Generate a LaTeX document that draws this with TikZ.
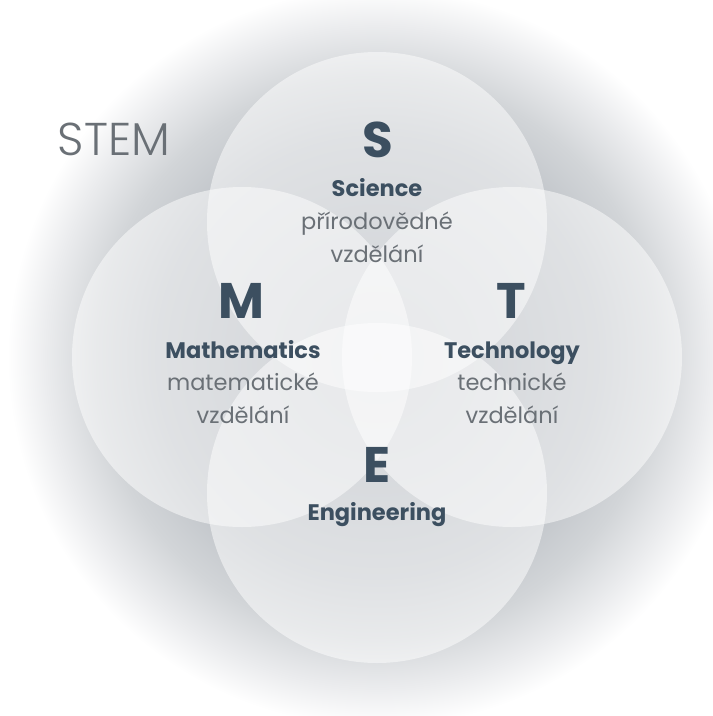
\documentclass[tikz,border=0pt]{standalone}
\usepackage{fontspec}
\setmainfont{Poppins}
\newfontfamily\poplight{Poppins Light}
\definecolor{gA}{HTML}{A0A6AE}
\definecolor{gB}{HTML}{AEB3BA}
\definecolor{gC}{HTML}{C0C4C9}
\definecolor{gD}{HTML}{D2D5D8}
\definecolor{gE}{HTML}{EBECEE}
\definecolor{darktxt}{HTML}{3C4F60}
\definecolor{softtxt}{HTML}{6A7076}
% 1bp of the shading = 24pt on the page (circle of radius 600pt)
\pgfdeclareradialshading{glow}{\pgfpoint{0bp}{0bp}}{color(0bp)=(gA); color(4.2bp)=(gB); color(9.2bp)=(gC); color(11.7bp)=(gD); color(13.8bp)=(gE); color(15.4bp)=(white); color(25bp)=(white); color(50bp)=(white)}
\tikzset{
  petal/.style={fill=white, fill opacity=0.5, draw=none},
  bigletter/.style={font=\fontsize{50}{50}\selectfont\bfseries, text=darktxt, anchor=base, inner sep=0pt},
  boldlabel/.style={font=\fontsize{22.5}{22.5}\selectfont\bfseries, text=darktxt, anchor=base, inner sep=0pt},
  softlabel/.style={font=\fontsize{22.5}{22.5}\selectfont, text=softtxt, anchor=base, inner sep=0pt},
}
\begin{document}
\begin{tikzpicture}[x=1pt,y=-1pt]
\useasboundingbox (0,0) rectangle (713,716);
\clip (0,0) rectangle (713,716);
\fill[white] (0,0) rectangle (713,716);
\fill[shading=glow] (377,357) circle[radius=600pt];
% circles
\fill[petal] (377,222) circle[radius=170pt];
\fill[petal] (242,357) circle[radius=170pt];
\fill[petal] (512,357) circle[radius=170pt];
\fill[petal] (377,493) circle[radius=170pt];
% texts
\node[font=\poplight\fontsize{46}{46}\selectfont, text=softtxt, anchor=base, inner sep=0pt] (stem) at (114,155) {STEM};
\node[bigletter] (s) at (378,157) {S};
\node[boldlabel] (sci) at (377,196) {Science};
\node[softlabel] (sci1) at (377,229) {přírodovědné};
\node[softlabel] (sci2) at (377,262) {vzdělání};
\node[bigletter] (m) at (241,318) {M};
\node[boldlabel] (mat) at (243,358) {Mathematics};
\node[softlabel] (mat1) at (243,390) {matematické};
\node[softlabel] (mat2) at (243,423) {vzdělání};
\node[bigletter] (t) at (511,318) {T};
\node[boldlabel] (tec) at (512,358) {Technology};
\node[softlabel] (tec1) at (512,390) {technické};
\node[softlabel] (tec2) at (512,423) {vzdělání};
\node[bigletter] (e) at (377,482) {E};
\node[boldlabel] (eng) at (377,520) {Engineering};
\end{tikzpicture}
\end{document}
